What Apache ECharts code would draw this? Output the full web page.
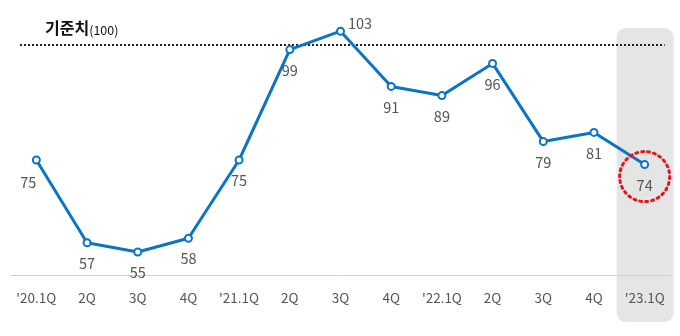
<!DOCTYPE html>
<html><head><meta charset="utf-8">
<script src="https://cdn.jsdelivr.net/npm/echarts@6/dist/echarts.min.js"></script>
<style>html,body{margin:0;padding:0;background:#fff}#c{width:680px;height:336px}</style>
</head><body><div id="c"></div>
<script>
const categories = ["'20.1Q","2Q","3Q","4Q","'21.1Q","2Q","3Q","4Q","'22.1Q","2Q","3Q","4Q","'23.1Q"];
const values = [75,57,55,58,75,99,103,91,89,96,79,81,74];
const baseline = 100;
const baselineLabel = '기준치';

const chart = echarts.init(document.getElementById('c'), null, {renderer:'canvas'});
const font = '"Noto Sans CJK KR","Noto Sans",sans-serif';
const data = values.map((v,i)=>{
  const d = {value:v};
  if (i===0) d.label = {position:'bottom', offset:[-8,2]};
  if (i===6) d.label = {position:'right', offset:[-6,-8]};
  return d;
});
chart.setOption({
  animation:false,
  grid:{left:11, right:10, top:22, bottom:61},
  xAxis:{type:'category', data:categories, boundaryGap:true,
    axisLine:{lineStyle:{color:'#d0d0d0', width:1}}, axisTick:{show:false},
    axisLabel:{color:'#555', fontSize:13.5, fontFamily:font, margin:16, interval:0, hideOverlap:false}},
  yAxis:{type:'value', min:50, max:105, show:false, splitLine:{show:false}},
  series:[{
    type:'line', data:data, z:5,
    lineStyle:{color:'#0b74c4', width:3},
    itemStyle:{color:'#0b74c4', borderWidth:2},
    symbol:'emptyCircle', symbolSize:7,
    label:{show:true, position:'bottom', distance:9, color:'#555', fontSize:14.5, fontFamily:font},
    markLine:{silent:true, symbol:'none', label:{show:false},
      lineStyle:{color:'#222', type:[2,2], width:2},
      data:[{yAxis:baseline}]}
  }]
});

function drawExtras(){
  const n = categories.length;
  const last = chart.convertToPixel({xAxisIndex:0,yAxisIndex:0},[n-1, values[n-1]]);
  chart.setOption({
    series:[{markLine:{data:[[{x:20,yAxis:baseline},{x:last[0]+20,yAxis:baseline}]]}}],
    graphic:[
      {type:'rect', z:-10, silent:true,
        shape:{x:last[0]-28, y:28, width:57, height:294, r:9},
        style:{fill:'#e5e5e5'}},
      {type:'circle', z:20, silent:true,
        shape:{cx:last[0], cy:last[1]+12, r:25},
        style:{fill:null, stroke:'#e8141b', lineWidth:3, lineDash:[2,4], lineCap:'round'}},
      {type:'text', z:20, left:45, top:20, silent:true,
        style:{text:'{a|'+baselineLabel+'}{b|('+baseline+')}',
          rich:{a:{fontSize:16, fontWeight:'bold', fill:'#111', fontFamily:font},
                b:{fontSize:12.5, fill:'#111', fontFamily:font, padding:[4,0,0,0]}}}}
    ]
  });
}
drawExtras();
</script></body></html>
